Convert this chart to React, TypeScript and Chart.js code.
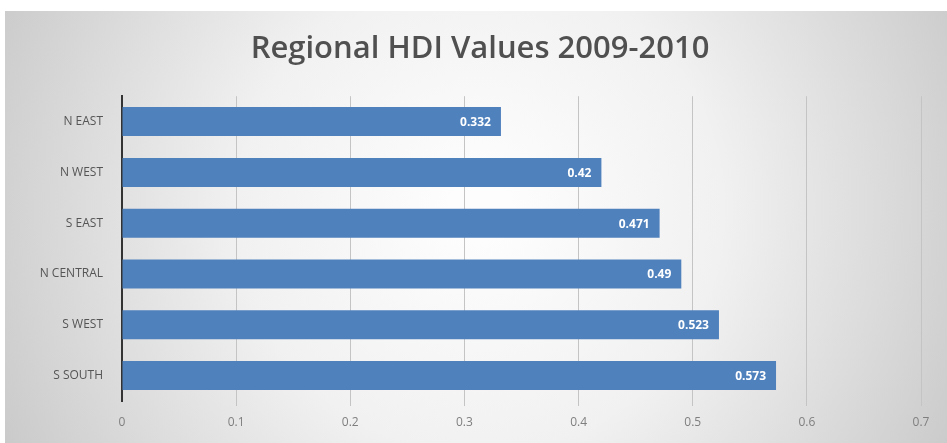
import React, { useEffect, useRef } from "react";
import { Chart, registerables } from "chart.js";

Chart.register(...registerables);

const titleText = "Regional HDI Values 2009-2010";
const regions = ["N EAST", "N WEST", "S EAST", "N CENTRAL", "S WEST", "S SOUTH"];
const hdiValues = [0.332, 0.42, 0.471, 0.49, 0.523, 0.573];
const xTicks = [0, 0.1, 0.2, 0.3, 0.4, 0.5, 0.6, 0.7];

const bgPlugin = {
  id: "bgPanel",
  beforeDraw(chart: any) {
    const { ctx, width, height } = chart;
    ctx.save();
    ctx.fillStyle = "#ffffff";
    ctx.fillRect(0, 0, width, height);
    const g = ctx.createRadialGradient(480, 210, 30, 480, 210, 560);
    g.addColorStop(0, "#fdfdfd");
    g.addColorStop(0.4, "#f1f1f1");
    g.addColorStop(1, "#c6c6c6");
    ctx.fillStyle = g;
    ctx.fillRect(5, 11, width - 5, height - 11);
    ctx.restore();
  },
};

const labelPlugin = {
  id: "barLabels",
  afterDatasetsDraw(chart: any) {
    const { ctx } = chart;
    const meta = chart.getDatasetMeta(0);
    ctx.save();
    ctx.fillStyle = "#ffffff";
    ctx.font = "bold 12px 'Open Sans', sans-serif";
    ctx.textAlign = "right";
    ctx.textBaseline = "middle";
    meta.data.forEach((bar: any, i: number) => {
      ctx.fillText(String(hdiValues[i]), bar.x - 10, bar.y + 1);
    });
    ctx.restore();
  },
};

export default function App() {
  const ref = useRef<HTMLCanvasElement>(null);
  useEffect(() => {
    if (!ref.current) return;
    const chart = new Chart(ref.current, {
      type: "bar",
      data: {
        labels: regions,
        datasets: [
          {
            data: hdiValues,
            backgroundColor: "#4f81bd",
            borderWidth: 0,
            barPercentage: 0.57,
            categoryPercentage: 1,
          },
        ],
      },
      options: {
        indexAxis: "y",
        animation: false,
        responsive: false,
        layout: { padding: { top: 12, right: 26, bottom: 0, left: 39 } },
        plugins: {
          legend: { display: false },
          tooltip: { enabled: false },
          title: {
            display: true,
            text: titleText,
            color: "#505050",
            font: { family: "'Open Sans', sans-serif", size: 31, weight: "600" },
            padding: { top: 19, bottom: 28 },
          },
        },
        scales: {
          x: {
            min: 0,
            max: 0.7,
            afterBuildTicks(scale: any) {
              scale.ticks = xTicks.map((v) => ({ value: v }));
            },
            afterFit(scale: any) {
              scale.height = 42;
            },
            ticks: {
              color: "#7f7f7f",
              font: { family: "'Open Sans', sans-serif", size: 12 },
              padding: 9,
              callback: (v: any) => String(v),
            },
            grid: {
              color: (c: any) => (c.tick && c.tick.value === 0 ? "rgba(0,0,0,0)" : "#c4c4c4"),
              lineWidth: 1,
              tickLength: 5,
              drawOnChartArea: true,
            },
            border: { display: false },
          },
          y: {
            afterFit(scale: any) {
              scale.width = 83;
            },
            ticks: {
              color: "#555555",
              font: { family: "'Open Sans', sans-serif", size: 12 },
              padding: 11,
            },
            grid: { display: false },
            border: { display: true, color: "#333333", width: 2 },
          },
        },
      },
      plugins: [bgPlugin, labelPlugin],
    });
    return () => chart.destroy();
  }, []);
  return (
    <div style={{ position: "fixed", left: 0, top: 0, width: 947, height: 443 }}>
      <canvas ref={ref} width={947} height={443} style={{ width: 947, height: 443 }} />
    </div>
  );
}
